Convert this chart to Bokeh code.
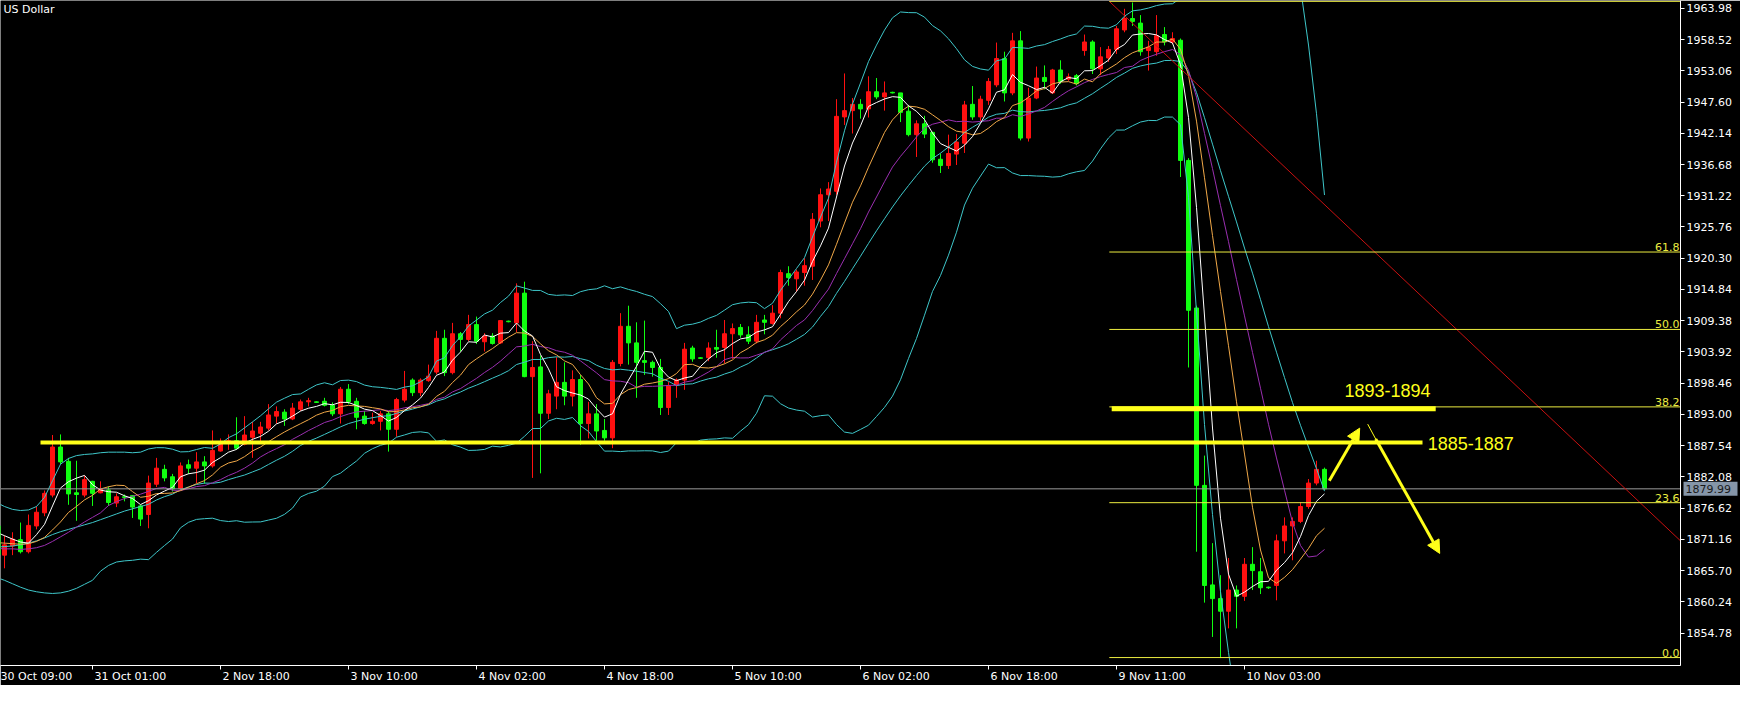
import numpy as np
import pandas as pd
from bokeh.plotting import figure
from bokeh.models import (ColumnDataSource, FixedTicker, Label, Arrow, NormalHead,
                          PrintfTickFormatter)
from bokeh.core.properties import value
from bokeh.embed import file_html
from bokeh.resources import INLINE

# ---------------- data ----------------
symbol_name = "US Dollar"

opens = [1873.5, 1868.4, 1870.0, 1871.1, 1869.0, 1873.5, 1875.8, 1878.9, 1887.3, 1884.8,
         1879.3, 1878.9, 1881.3, 1879.3, 1879.8, 1877.5, 1878.6, 1878.8, 1877.0, 1875.5,
         1880.8, 1883.4, 1882.1, 1880.0, 1884.2, 1883.6, 1884.7, 1884.0, 1886.6, 1888.0,
         1888.4, 1887.8, 1889.0, 1889.7, 1890.6, 1892.7, 1893.4, 1892.2, 1893.9, 1895.2,
         1895.2, 1895.3, 1894.6, 1893.1, 1897.4, 1895.3, 1892.7, 1891.4, 1891.8, 1893.1,
         1890.4, 1895.5, 1899.0, 1896.8, 1898.9, 1900.4, 1906.3, 1900.3, 1907.1, 1906.1,
         1908.7, 1905.7, 1906.7, 1905.5, 1909.3, 1909.0, 1914.2, 1899.6, 1901.3, 1893.2,
         1896.2, 1898.6, 1896.2, 1899.1, 1891.4, 1893.1, 1890.2, 1888.9, 1901.9, 1908.4,
         1905.5, 1902.4, 1902.1, 1901.2, 1894.2, 1898.2, 1899.0, 1904.6, 1902.9, 1902.9,
         1904.7, 1904.7, 1907.1, 1908.2, 1906.9, 1905.8, 1909.5, 1908.9, 1910.7, 1917.6,
         1916.7, 1917.8, 1918.9, 1926.8, 1931.4, 1932.0, 1945.0, 1946.1, 1947.2, 1946.4,
         1949.4, 1948.5, 1949.3, 1949.2, 1946.0, 1941.9, 1943.8, 1942.3, 1937.6, 1936.5,
         1938.5, 1940.4, 1947.2, 1945.0, 1947.9, 1950.6, 1955.2, 1949.2, 1958.3, 1941.3,
         1948.3, 1951.9, 1949.2, 1953.2, 1951.6, 1952.2, 1956.6, 1958.1, 1953.4, 1955.3,
         1956.8, 1960.2, 1962.2, 1961.4, 1956.6, 1956.4, 1959.4, 1958.1, 1958.4, 1937.4,
         1911.6, 1880.6, 1863.2, 1860.8, 1858.6, 1862.3, 1861.2, 1866.8, 1865.5, 1862.8,
         1863.1, 1870.9, 1873.5, 1874.3, 1876.9, 1881.0, 1883.4]
highs = [1874.9, 1871.8, 1872.4, 1874.1, 1875.5, 1876.9, 1879.7, 1889.4, 1889.5, 1885.4,
         1884.9, 1882.3, 1881.4, 1881.3, 1880.4, 1879.2, 1879.0, 1878.9, 1877.2, 1882.3,
         1885.4, 1884.2, 1882.6, 1884.6, 1885.1, 1886.4, 1885.7, 1890.2, 1888.8, 1889.5,
         1892.5, 1892.7, 1891.7, 1891.7, 1894.8, 1894.4, 1893.9, 1895.0, 1895.6, 1895.9,
         1895.3, 1895.9, 1895.1, 1897.8, 1898.3, 1895.9, 1893.6, 1893.3, 1893.6, 1893.6,
         1895.9, 1900.6, 1899.3, 1899.3, 1901.7, 1907.6, 1907.8, 1909.0, 1907.4, 1910.4,
         1910.1, 1907.2, 1907.2, 1909.5, 1909.4, 1915.9, 1916.2, 1905.8, 1903.3, 1897.3,
         1903.0, 1902.1, 1900.7, 1899.9, 1895.2, 1894.8, 1892.2, 1902.5, 1910.7, 1912.0,
         1909.1, 1909.4, 1902.4, 1902.7, 1898.7, 1899.3, 1905.5, 1905.0, 1903.0, 1905.6,
         1907.8, 1909.5, 1908.9, 1908.8, 1908.4, 1910.4, 1910.4, 1912.1, 1918.3, 1918.9,
         1918.3, 1920.3, 1928.2, 1932.5, 1933.6, 1948.1, 1952.6, 1948.3, 1948.1, 1952.1,
         1951.8, 1951.2, 1949.4, 1949.2, 1947.1, 1944.4, 1945.2, 1942.4, 1938.6, 1941.9,
         1942.0, 1947.8, 1950.4, 1948.7, 1951.8, 1958.0, 1956.4, 1959.7, 1960.0, 1950.1,
         1953.8, 1954.0, 1953.4, 1954.9, 1952.6, 1952.5, 1959.4, 1958.4, 1957.2, 1957.4,
         1960.9, 1963.9, 1965.0, 1962.8, 1958.3, 1962.8, 1960.7, 1959.8, 1958.7, 1937.8,
         1912.0, 1885.8, 1870.5, 1864.9, 1867.9, 1863.1, 1867.9, 1869.8, 1867.9, 1862.9,
         1872.0, 1875.0, 1875.0, 1877.6, 1881.7, 1884.9, 1883.7]
lows = [1868.4, 1866.1, 1868.4, 1868.7, 1868.7, 1872.9, 1875.2, 1878.5, 1884.3, 1877.2,
        1874.4, 1878.5, 1877.0, 1879.2, 1877.0, 1876.8, 1877.8, 1874.9, 1873.5, 1873.1,
        1880.3, 1881.3, 1879.5, 1879.7, 1882.6, 1881.0, 1880.9, 1883.7, 1886.5, 1886.8,
        1886.8, 1887.6, 1885.4, 1888.0, 1890.2, 1891.4, 1891.0, 1892.0, 1893.6, 1894.4,
        1895.0, 1894.4, 1892.7, 1891.4, 1894.8, 1890.4, 1891.2, 1891.2, 1890.2, 1886.5,
        1889.1, 1895.1, 1896.2, 1896.2, 1898.7, 1900.0, 1899.7, 1900.0, 1904.0, 1905.8,
        1905.3, 1904.0, 1905.2, 1905.3, 1909.1, 1907.4, 1899.5, 1881.9, 1882.7, 1892.2,
        1893.9, 1894.6, 1894.4, 1887.7, 1888.8, 1888.4, 1888.4, 1887.1, 1901.4, 1901.7,
        1895.9, 1899.9, 1899.6, 1892.9, 1892.9, 1895.9, 1897.3, 1902.2, 1902.7, 1902.3,
        1902.9, 1901.9, 1902.7, 1906.4, 1905.3, 1905.4, 1907.0, 1908.7, 1909.8, 1915.5,
        1914.4, 1915.5, 1916.5, 1925.7, 1926.8, 1931.4, 1943.6, 1942.1, 1944.7, 1944.9,
        1948.1, 1946.1, 1949.1, 1944.1, 1941.6, 1938.0, 1941.3, 1937.0, 1935.2, 1935.9,
        1936.6, 1938.7, 1944.5, 1944.3, 1947.1, 1950.2, 1947.7, 1948.8, 1940.9, 1940.7,
        1948.1, 1949.8, 1949.0, 1950.8, 1951.3, 1950.5, 1955.7, 1952.5, 1952.3, 1954.6,
        1956.0, 1959.8, 1960.9, 1955.7, 1953.1, 1955.7, 1957.5, 1957.7, 1934.5, 1901.2,
        1869.0, 1860.1, 1854.1, 1850.4, 1855.6, 1855.6, 1860.4, 1862.3, 1861.6, 1862.5,
        1860.5, 1868.7, 1867.5, 1874.0, 1876.5, 1880.6, 1879.8]
closes = [1868.5, 1870.2, 1871.2, 1869.0, 1873.6, 1875.9, 1879.2, 1887.3, 1884.7, 1879.1,
          1879.0, 1881.6, 1879.2, 1880.0, 1877.6, 1878.6, 1878.5, 1876.8, 1874.7, 1881.0,
          1883.6, 1881.9, 1880.0, 1884.0, 1883.6, 1884.7, 1884.0, 1886.7, 1888.2, 1888.4,
          1887.1, 1889.4, 1890.1, 1890.8, 1892.9, 1893.5, 1892.2, 1894.1, 1895.2, 1895.4,
          1895.1, 1894.6, 1893.1, 1897.4, 1895.2, 1892.5, 1891.4, 1891.8, 1893.1, 1890.4,
          1895.6, 1897.4, 1896.8, 1899.0, 1899.7, 1906.3, 1900.3, 1907.1, 1906.1, 1908.7,
          1905.8, 1906.7, 1905.4, 1909.4, 1909.2, 1914.2, 1899.6, 1901.2, 1893.2, 1896.6,
          1898.6, 1896.2, 1899.1, 1891.4, 1893.1, 1890.1, 1888.9, 1902.1, 1908.4, 1905.5,
          1902.1, 1902.1, 1901.2, 1894.2, 1898.0, 1899.0, 1904.4, 1902.7, 1902.8, 1904.6,
          1904.4, 1907.1, 1908.0, 1906.9, 1905.8, 1909.1, 1909.1, 1910.7, 1917.8, 1916.9,
          1917.9, 1919.0, 1927.1, 1931.4, 1932.4, 1945.1, 1946.1, 1947.2, 1946.4, 1949.4,
          1948.5, 1949.2, 1949.2, 1945.8, 1941.9, 1943.8, 1942.0, 1937.5, 1936.5, 1938.6,
          1940.6, 1947.1, 1945.0, 1948.1, 1951.2, 1955.2, 1949.2, 1958.3, 1941.3, 1948.3,
          1951.8, 1951.2, 1953.2, 1951.2, 1952.0, 1950.8, 1958.1, 1953.4, 1955.5, 1956.8,
          1960.4, 1962.2, 1961.7, 1956.4, 1957.2, 1959.2, 1958.1, 1958.7, 1937.4, 1911.2,
          1880.6, 1863.1, 1860.8, 1858.6, 1862.3, 1861.2, 1866.8, 1865.7, 1862.7, 1862.7,
          1870.9, 1873.5, 1874.3, 1876.9, 1881.0, 1883.4, 1879.99]

# indicator values at the left edge (before each window is full)
ma5_lead = [1872.4, 1871.8, 1871.2, 1870.7]
ma10_lead = [1870.6, 1870.5, 1870.4, 1870.3, 1870.4, 1870.8, 1871.5, 1872.8, 1874.2]
ma15_lead = [1869.6, 1869.5, 1869.5, 1869.4, 1869.5, 1869.7, 1870.1, 1870.8, 1871.6,
             1872.4, 1873.3, 1874.2, 1875.0, 1875.8]
bb_up_lead = [1877.6, 1876.9, 1876.4, 1876.2, 1876.3, 1876.9, 1878.5, 1881.4, 1884.3,
              1885.3, 1885.8, 1886.0, 1886.1, 1886.3, 1886.4, 1886.4, 1886.4, 1886.3, 1886.4]
bb_mid_lead = [1869.8, 1869.9, 1870.0, 1870.2, 1870.5, 1870.9, 1871.4, 1872.0, 1872.5,
               1872.9, 1873.3, 1873.7, 1874.1, 1874.6, 1875.1, 1875.6, 1876.1, 1876.5, 1876.9]
bb_lo_lead = [1864.5, 1864.0, 1863.4, 1862.8, 1862.3, 1862.0, 1861.8, 1861.7, 1861.8,
              1862.1, 1862.6, 1863.3, 1864.0, 1865.6, 1866.6, 1867.2, 1867.4, 1867.5, 1867.7]

time_tick_bars = [-4, 12, 28, 44, 60, 76, 92, 108, 124, 140, 156]
time_tick_labels = ["30 Oct 09:00", "31 Oct 01:00", "2 Nov 18:00", "3 Nov 10:00",
                    "4 Nov 02:00", "4 Nov 18:00", "5 Nov 10:00", "6 Nov 02:00",
                    "6 Nov 18:00", "9 Nov 11:00", "10 Nov 03:00"]
price_ticks = [1854.78, 1860.24, 1865.70, 1871.16, 1876.62, 1882.08, 1887.54, 1893.00,
               1898.46, 1903.92, 1909.38, 1914.84, 1920.30, 1925.76, 1931.22, 1936.68,
               1942.14, 1947.60, 1953.06, 1958.52, 1963.98]

fib_low, fib_high = 1850.5, 1965.2
fib_levels = [0.0, 23.6, 38.2, 50.0, 61.8, 100.0]
zone_upper_text, zone_upper_price = "1893-1894", 1894.0
zone_lower_text, zone_lower_price = "1885-1887", 1888.1
last_price = 1879.99

# ---------------- indicators (computed from the closes) ----------------
s = pd.Series(closes)


def with_lead(series, lead):
    out = series.copy()
    out.iloc[:len(lead)] = lead
    return out


ma5 = with_lead(s.rolling(5).mean(), ma5_lead)
ma10 = with_lead(s.rolling(10).mean(), ma10_lead)
ma15 = with_lead(s.rolling(15).mean(), ma15_lead)
mid = s.rolling(20).mean()
sd = s.rolling(20).std(ddof=0)
bb_mid = with_lead(mid, bb_mid_lead)
bb_up = with_lead(mid + 2 * sd, bb_up_lead)
bb_lo = with_lead(mid - 2 * sd, bb_lo_lead)

n = len(closes)
idx = np.arange(n)
UP, DOWN = "#ff1010", "#10ff10"
src = ColumnDataSource(dict(
    x=idx, o=opens, h=highs, l=lows, c=closes,
    top=np.maximum(opens, closes), bot=np.minimum(opens, closes),
    col=[UP if c > o else DOWN for o, c in zip(opens, closes)],
    ma5=ma5, ma10=ma10, ma15=ma15, bbm=bb_mid, bbu=bb_up, bbl=bb_lo))

FONT = "DejaVu Sans"
FS = 11
X0, X1 = 0.5, 210.5
Y0, Y1 = 1849.11, 1965.35
PX_PER_BAR = 8.0

p = figure(width=1740, height=685, x_range=(X0, X1), y_range=(Y0, Y1),
           output_backend="svg", toolbar_location=None, y_axis_location="right",
           min_border_left=0, min_border_top=0, min_border_right=60, min_border_bottom=13,
           background_fill_color="black", border_fill_color="black")
p.outline_line_color = None
p.grid.visible = False

# price axis
p.yaxis.ticker = FixedTicker(ticks=price_ticks)
p.yaxis.formatter = PrintfTickFormatter(format="%.2f")
p.yaxis.axis_line_color = "white"
p.yaxis.major_tick_line_color = "white"
p.yaxis.major_tick_out = 4
p.yaxis.major_tick_in = 0
p.yaxis.minor_tick_line_color = None
p.yaxis.major_label_standoff = 2
p.yaxis.major_label_text_color = "white"
p.yaxis.major_label_text_font = FONT
p.yaxis.major_label_text_font_size = f"{FS}px"

# time axis: labels start at their tick (labels are centred, so shift by half width)
CW = {" ": 0.318, ":": 0.337, "O": 0.787, "c": 0.550, "t": 0.392, "N": 0.748,
      "o": 0.612, "v": 0.592}


def text_px(t):
    return sum(CW.get(ch, 0.636) for ch in t) * FS


centers = [round(b + (text_px(t) / 2 + 2) / PX_PER_BAR, 4)
           for b, t in zip(time_tick_bars, time_tick_labels)]
p.xaxis.ticker = FixedTicker(ticks=centers, minor_ticks=time_tick_bars)
p.xaxis.major_label_overrides = {c: t for c, t in zip(centers, time_tick_labels)}
p.xaxis.axis_line_color = "white"
p.xaxis.major_tick_line_color = None
p.xaxis.major_tick_out = 0
p.xaxis.major_tick_in = 0
p.xaxis.minor_tick_line_color = "white"
p.xaxis.minor_tick_out = 4
p.xaxis.minor_tick_in = 0
p.xaxis.major_label_standoff = 0
p.xaxis.major_label_text_color = "white"
p.xaxis.major_label_text_font = FONT
p.xaxis.major_label_text_font_size = f"{FS}px"

# candles
p.segment("x", "h", "x", "l", color="col", line_width=1, source=src)
p.vbar(x="x", width=0.5, top="top", bottom="bot", fill_color="col", line_color="col",
       line_width=1, source=src)

# indicators
CYAN = "#3ec6c9"
p.line("x", "bbu", color=CYAN, line_width=1, source=src)
p.line("x", "bbl", color=CYAN, line_width=1, source=src)
p.line("x", "bbm", color=CYAN, line_width=1, source=src)
p.line("x", "ma15", color="#9a2fb0", line_width=1, source=src)
p.line("x", "ma10", color="#f0a848", line_width=1, source=src)
p.line("x", "ma5", color="white", line_width=1, source=src)

# last price line
p.line([X0, X1], [last_price, last_price], color="#9a9a9a", line_width=1)

# red trend line
p.line([139.1, X1], [1965.2, 1870.9], color="#c81010", line_width=1)

# fibonacci levels
FIBC = "#ecec40"
for lv in fib_levels:
    yv = fib_low + (fib_high - fib_low) * lv / 100.0
    p.line([139.1, X1], [yv, yv], color=FIBC, line_width=1)
    p.add_layout(Label(x=X1, y=yv, text=f"{lv:.1f}", x_offset=-1, y_offset=1,
                       text_align="right", text_baseline="bottom", text_color=FIBC,
                       text_font=FONT, text_font_size=f"{FS}px"))

# zones
YEL = "#ffff1a"
p.line([139.4, 179.9], [zone_upper_price, zone_upper_price], color=YEL, line_width=5)
p.line([5.5, 178.25], [zone_lower_price, zone_lower_price], color=YEL, line_width=4)
p.add_layout(Label(x=168.5, y=1897.1, text=zone_upper_text, text_align="left",
                   text_baseline="middle", text_color=YEL, text_font="Liberation Sans",
                   text_font_size="18px"))
p.add_layout(Label(x=178.9, y=1887.9, text=zone_lower_text, text_align="left",
                   text_baseline="middle", text_color=YEL, text_font="Liberation Sans",
                   text_font_size="18px"))

# arrows
p.add_layout(Arrow(end=NormalHead(size=13, fill_color=YEL, line_color=YEL),
                   x_start=166.6, y_start=1881.4, x_end=170.4, y_end=1890.6,
                   line_color=YEL, line_width=3))
p.line([171.4, 172.4], [1891.3, 1888.7], color=YEL, line_width=1)
p.add_layout(Arrow(end=NormalHead(size=13, fill_color=YEL, line_color=YEL),
                   x_start=172.4, y_start=1888.7, x_end=180.4, y_end=1868.7,
                   line_color=YEL, line_width=3))

# symbol caption
p.add_layout(Label(x=X0, y=Y1, text=symbol_name, x_offset=3, y_offset=-2,
                   text_align="left", text_baseline="top", text_color="white",
                   text_font=FONT, text_font_size=f"{FS}px"))

# last price box on the price axis (overlay level glyphs are drawn outside the frame)
box_w = 54
p.rect(x=[X1 + (3 + box_w / 2) / PX_PER_BAR], y=[last_price], width=box_w, height=14,
       width_units="screen", height_units="screen", fill_color="#8595a8",
       line_color=None, level="overlay")
p.text(x=[X1], y=[last_price], text=[f"{last_price:.2f}"], x_offset=5,
       text_align="left", text_baseline="middle", text_color="#1a1a1a",
       text_font=value(FONT), text_font_size=f"{FS}px", level="overlay")

open("out.html", "w").write(file_html(p, INLINE))
